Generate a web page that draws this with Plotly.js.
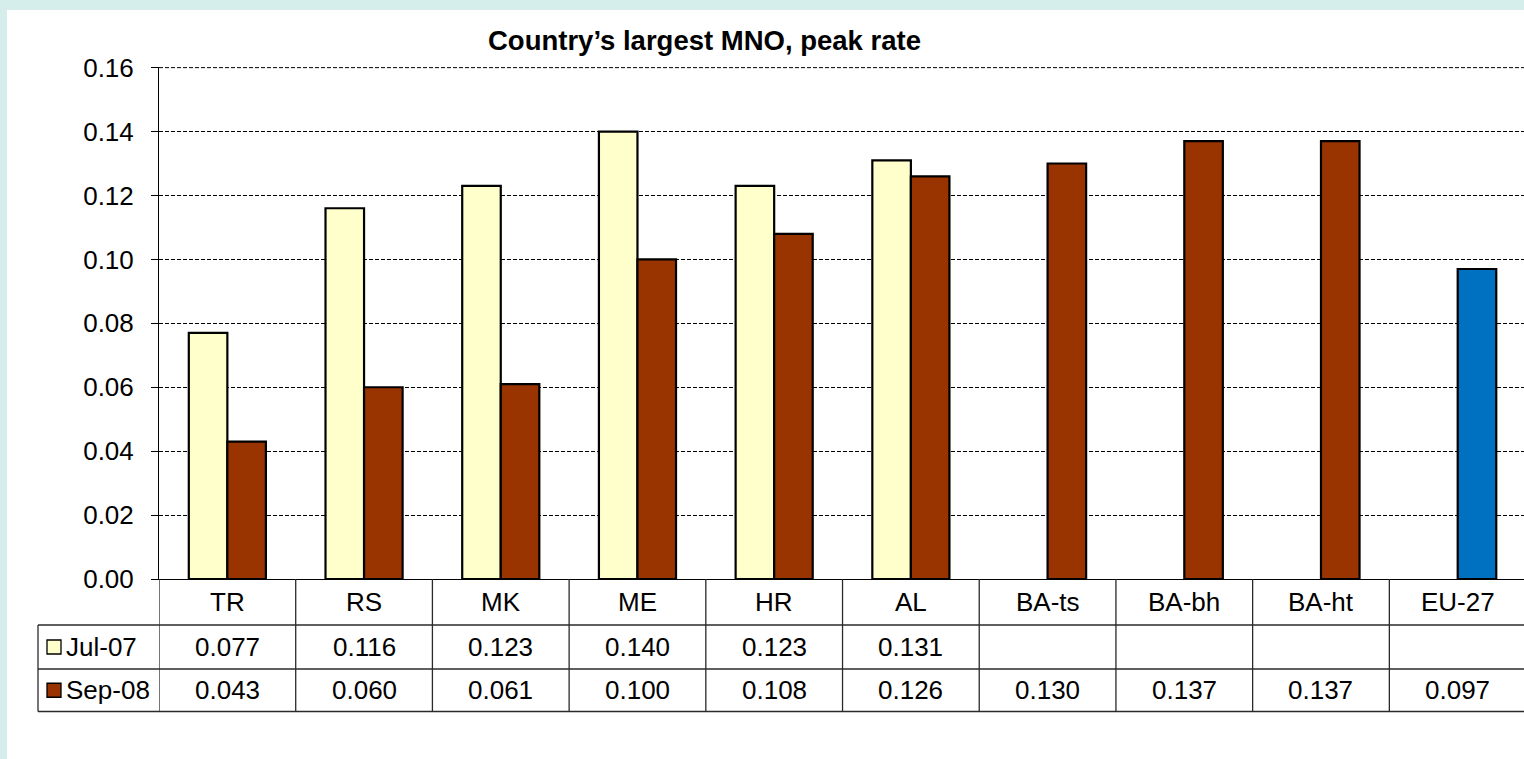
<!DOCTYPE html>
<html>
<head>
<meta charset="utf-8">
<script src="https://cdn.plot.ly/plotly-3.0.1.min.js"></script>
<style>
html,body{margin:0;padding:0;background:#ffffff;}
#chart{width:1524px;height:759px;}
</style>
</head>
<body>
<div id="chart"></div>
<script>
// ---- data ----
const categories = ["TR", "RS", "MK", "ME", "HR", "AL", "BA-ts", "BA-bh", "BA-ht", "EU-27"];
const jul07 = [0.077, 0.116, 0.123, 0.140, 0.123, 0.131, null, null, null, null];
const sep08 = [0.043, 0.060, 0.061, 0.100, 0.108, 0.126, 0.130, 0.137, 0.137, 0.097];
const seriesNames = ["Jul-07", "Sep-08"];
const yTicks = [0, 0.02, 0.04, 0.06, 0.08, 0.10, 0.12, 0.14, 0.16];
const titleText = "Country\u2019s largest MNO, peak rate";

// ---- styles ----
const colJul = "#FFFFCC";
const colSep = "#993300";
const colEU = "#0070C0";
const FONT = "Liberation Sans, Arial, sans-serif";
const FS = 26;

// layout geometry helpers (pixel -> paper)
const W = 1524, H = 759, L = 159, R = 0, T = 67, B = 180;
const PW = W - L - R, PH = H - T - B;
const px = x => (x - L) / PW;
const py = y => (H - B - y) / PH;

const sepColors = categories.map(c => c === "EU-27" ? colEU : colSep);

const traces = [
  {type: "bar", name: seriesNames[0], x: categories.map((c, i) => i), y: jul07,
   marker: {color: colJul, line: {color: "#000", width: 2.2}}, hoverinfo: "y"},
  {type: "bar", name: seriesNames[1], x: categories.map((c, i) => i), y: sep08,
   marker: {color: sepColors, line: {color: "#000", width: 2.2}}, hoverinfo: "y"}
];

const lineCol = "#2a2a2a";
const rowTop = 579, rowCat = 625, rowJul = 669, rowSep = 711.5;
const tblLeft = 38;

const shapes = [];
// white inner background (cyan frame shows at top/left)
shapes.push({type: "rect", xref: "paper", yref: "paper", x0: px(7), x1: px(W + 5), y0: py(10), y1: py(H + 5),
  fillcolor: "#ffffff", line: {width: 0}, layer: "below"});
// top gridline (at the end of the axis range)
shapes.push({type: "line", xref: "paper", yref: "y", x0: 0, x1: 1, y0: yTicks[yTicks.length - 1], y1: yTicks[yTicks.length - 1],
  line: {color: "#000", width: 1, dash: "4px,2px"}, layer: "below"});
// vertical table lines at category boundaries
for (let i = 0; i <= categories.length; i++) {
  shapes.push({type: "line", xref: "x", yref: "paper", x0: i - 0.5, x1: i - 0.5, y0: py(rowTop), y1: py(rowSep),
    line: {color: lineCol, width: 1.3}});
}
// left border of label column
shapes.push({type: "line", xref: "paper", yref: "paper", x0: px(tblLeft), x1: px(tblLeft), y0: py(rowCat), y1: py(rowSep),
  line: {color: lineCol, width: 1.3}});
// horizontal table lines
[rowCat, rowJul, rowSep].forEach(y => {
  shapes.push({type: "line", xref: "paper", yref: "paper", x0: px(tblLeft), x1: px(W + 5), y0: py(y), y1: py(y),
    line: {color: lineCol, width: 1.3}});
});
// legend keys
const keyCols = [colJul, colSep];
[[rowCat, rowJul], [rowJul, rowSep]].forEach((r, k) => {
  const c = (r[0] + r[1]) / 2;
  shapes.push({type: "rect", xref: "paper", yref: "paper", x0: px(47), x1: px(61), y0: py(c - 7), y1: py(c + 7),
    fillcolor: keyCols[k], line: {color: "#000", width: 1.3}});
});

const annotations = [];
annotations.push({text: "<b>" + titleText + "</b>", xref: "paper", yref: "paper", x: px(704), y: py(40),
  xanchor: "center", yanchor: "middle", showarrow: false, font: {family: FONT, size: 27.5, color: "#000"}});
const catMid = (rowTop + rowCat) / 2, julMid = (rowCat + rowJul) / 2, sepMid = (rowJul + rowSep) / 2;
categories.forEach((c, i) => {
  annotations.push({text: c, xref: "x", yref: "paper", x: i, y: py(catMid), xanchor: "center", yanchor: "middle",
    showarrow: false, font: {family: FONT, size: FS, color: "#000"}});
  if (jul07[i] !== null) {
    annotations.push({text: jul07[i].toFixed(3), xref: "x", yref: "paper", x: i, y: py(julMid), xanchor: "center", yanchor: "middle",
      showarrow: false, font: {family: FONT, size: FS, color: "#000"}});
  }
  if (sep08[i] !== null) {
    annotations.push({text: sep08[i].toFixed(3), xref: "x", yref: "paper", x: i, y: py(sepMid), xanchor: "center", yanchor: "middle",
      showarrow: false, font: {family: FONT, size: FS, color: "#000"}});
  }
});
[julMid, sepMid].forEach((m, k) => {
  annotations.push({text: seriesNames[k], xref: "paper", yref: "paper", x: px(64), y: py(m), xanchor: "left", yanchor: "middle",
    showarrow: false, font: {family: FONT, size: FS, color: "#000"}});
});

const layout = {
  width: W, height: H,
  margin: {l: L, r: R, t: T, b: B, pad: 0},
  paper_bgcolor: "#d5edeb",
  plot_bgcolor: "#ffffff",
  showlegend: false,
  barmode: "group",
  bargap: 0.436,
  bargroupgap: 0,
  font: {family: FONT, size: FS, color: "#000"},
  xaxis: {range: [-0.5, 9.485], showticklabels: false, ticks: "", showgrid: false, zeroline: false,
    showline: true, linecolor: "#000", linewidth: 1, fixedrange: true},
  yaxis: {range: [0, 0.1602], tickvals: yTicks, tickformat: ".2f", ticks: "outside", ticklen: 7, tickcolor: "#000",
    tickwidth: 1, showline: true, linecolor: "#000", linewidth: 1, zeroline: false, ticklabelstandoff: 12,
    showgrid: true, gridcolor: "#000", gridwidth: 1, griddash: "4px,2px",
    tickfont: {family: FONT, size: FS, color: "#000"}, fixedrange: true},
  shapes: shapes,
  annotations: annotations
};

Plotly.newPlot("chart", traces, layout, {displayModeBar: false, staticPlot: true});
</script>
</body>
</html>
